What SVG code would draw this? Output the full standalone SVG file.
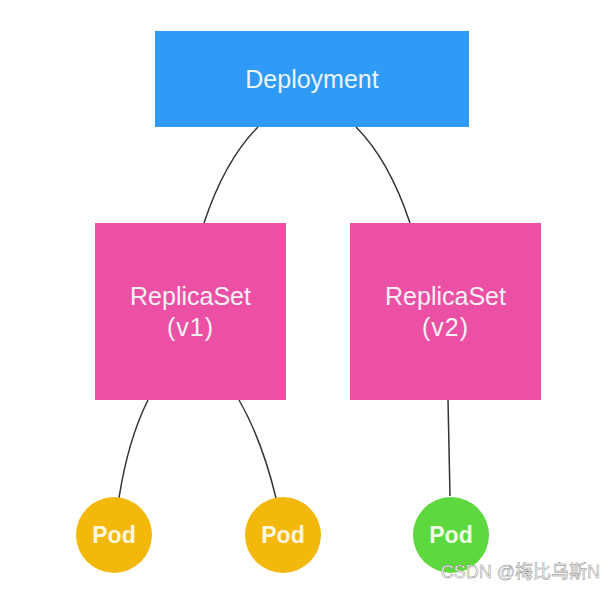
<svg xmlns="http://www.w3.org/2000/svg" width="616" height="591" viewBox="0 0 616 591">
<style>
.lbl{font-family:"Liberation Sans",Arial,sans-serif;font-size:25px;fill:#F4F0F6;text-anchor:middle}
.pod{font-family:"Liberation Sans",Arial,sans-serif;font-size:23px;font-weight:bold;fill:#FFF6E0;text-anchor:middle}
.edge{fill:none;stroke:#333333;stroke-width:1.5}
</style>
<rect width="616" height="591" fill="#ffffff"/>
<g id="connectors">
<path class="edge" d="M258,127 Q225,160 204,223"/>
<path class="edge" d="M356,127 Q389,160 410,223"/>
<path class="edge" d="M148,400 Q128,440 119,498"/>
<path class="edge" d="M239,400 Q262,440 276,498"/>
<path class="edge" d="M448,400 L450,496"/>
</g>
<g id="deployment">
<rect x="155" y="31" width="314" height="96" fill="#2F9BF7"/>
<text class="lbl" x="312" y="88" style="fill:#EAF4FF">Deployment</text>
</g>
<g id="rs-v1">
<rect x="95" y="223" width="191" height="177" fill="#EC50A4"/>
<text class="lbl" x="190.5" y="305">ReplicaSet</text>
<text class="lbl" x="190.5" y="336" letter-spacing="1">(v1)</text>
</g>
<g id="rs-v2">
<rect x="350" y="223" width="191" height="177" fill="#EC50A4"/>
<text class="lbl" x="445.5" y="305">ReplicaSet</text>
<text class="lbl" x="445.5" y="336" letter-spacing="1">(v2)</text>
</g>
<g id="pod1">
<circle cx="114" cy="535" r="38" fill="#F3B80C"/>
<text class="pod" x="114" y="543">Pod</text>
</g>
<g id="pod2">
<circle cx="283" cy="535" r="38" fill="#F3B80C"/>
<text class="pod" x="283" y="543">Pod</text>
</g>
<g id="pod3">
<circle cx="451" cy="535" r="38" fill="#5ED83F"/>
<text class="pod" x="451" y="543" style="fill:#EEFBE6">Pod</text>
</g>
<text x="600" y="578" text-anchor="end" font-family="'Liberation Sans','Noto Sans CJK SC',sans-serif" font-size="18" fill="#F4F4F4" stroke="#808080" stroke-width="0.4">CSDN @梅比乌斯N</text>
</svg>
